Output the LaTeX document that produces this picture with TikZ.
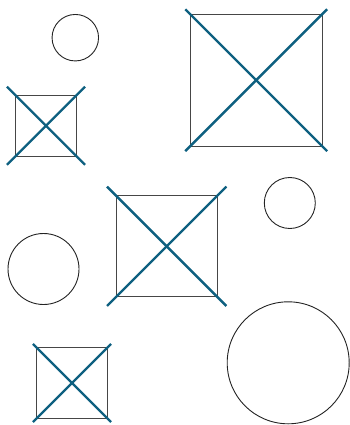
\documentclass[tikz,border=0pt]{standalone}
\usepackage{tikz}
\usetikzlibrary{positioning}
\definecolor{xblue}{RGB}{14,96,128}
\definecolor{xgrey}{RGB}{70,70,70}
\definecolor{xdark}{RGB}{35,35,35}
\tikzset{
  sq/.style={draw=xgrey, line width=0.9pt, rectangle, inner sep=0pt,
             outer sep=0pt},
  rnd/.style={draw=xdark, line width=0.9pt, circle, inner sep=0pt,
              outer sep=0pt},
  crossln/.style={draw=xblue, line width=2.4pt},
}

\begin{document}
\begin{tikzpicture}[x=1pt, y=-1pt]
\useasboundingbox (0,0) rectangle (350,425);
\node[rnd, minimum size=46.5pt] (ca) at (75.3,37.7) {};
\node[rnd, minimum size=71pt] (cb) at (43.5,269) {};
\node[rnd, minimum size=51pt] (cc) at (289.8,203) {};
\node[rnd, minimum size=122pt] (cd) at (288.2,362.8) {};
\node[sq, minimum size=60.5pt] (sa) at (46,125.7) {};
\node[sq, minimum size=132pt] (sb) at (256.2,80.2) {};
\node[sq, minimum size=101pt] (sc) at (166.7,246.3) {};
\node[sq, minimum size=71pt] (sd) at (72,383) {};
% crosses over the squares
\draw[crossln, shorten <=-12.5pt, shorten >=-12.5pt] (sa.north west) -- (sa.south east);
\draw[crossln, shorten <=-12.5pt, shorten >=-12.5pt] (sa.south west) -- (sa.north east);
\draw[crossln, shorten <=-7pt, shorten >=-7pt] (sb.north west) -- (sb.south east);
\draw[crossln, shorten <=-7pt, shorten >=-7pt] (sb.south west) -- (sb.north east);
\draw[crossln, shorten <=-13pt, shorten >=-13pt] (sc.north west) -- (sc.south east);
\draw[crossln, shorten <=-13pt, shorten >=-13pt] (sc.south west) -- (sc.north east);
\draw[crossln, shorten <=-5pt, shorten >=-5pt] (sd.north west) -- (sd.south east);
\draw[crossln, shorten <=-5pt, shorten >=-5pt] (sd.south west) -- (sd.north east);
\end{tikzpicture}
\end{document}
